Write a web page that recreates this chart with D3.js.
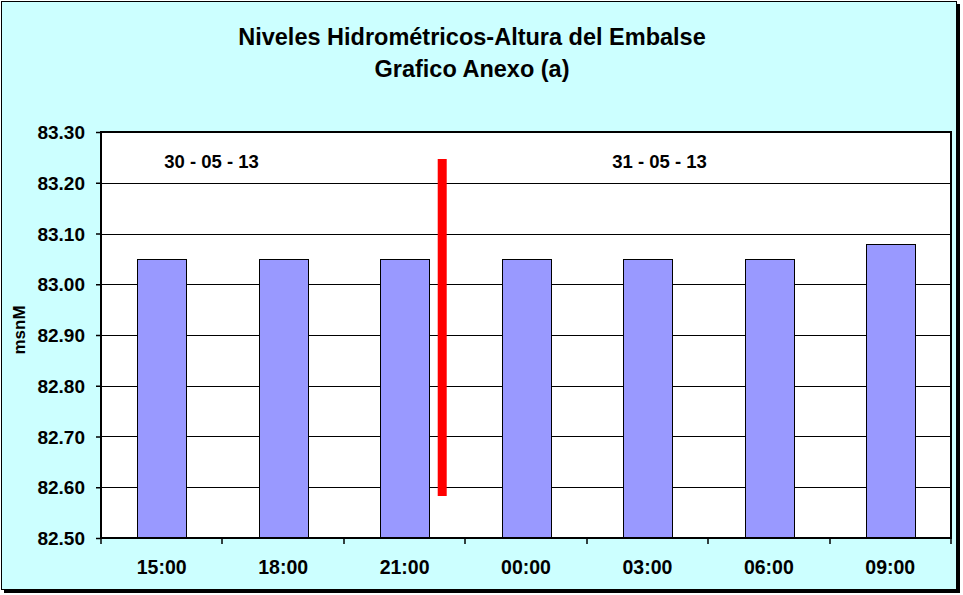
<!DOCTYPE html>
<html>
<head>
<meta charset="utf-8">
<script src="https://cdn.jsdelivr.net/npm/d3@7"></script>
<style>
  html, body { margin: 0; padding: 0; background: #ffffff; }
  svg { display: block; }
  text { font-family: "Liberation Sans", Arial, sans-serif; font-weight: bold; fill: #000; }
</style>
</head>
<body>
<svg id="chart" width="963" height="595"></svg>
<script>
// ---- data ----
const categories = ["15:00", "18:00", "21:00", "00:00", "03:00", "06:00", "09:00"];
const levels = [83.05, 83.05, 83.05, 83.05, 83.05, 83.05, 83.08];
const yTicks = [82.50, 82.60, 82.70, 82.80, 82.90, 83.00, 83.10, 83.20, 83.30];
const titleLines = ["Niveles Hidrométricos-Altura del Embalse", "Grafico Anexo (a)"];
const yLabel = "msnM";
const dateLabels = ["30 - 05 - 13", "31 - 05 - 13"];
const datePositions = [0.91, 4.6];        // in category-index units from left edge
const dayMarkerPos = [2.81];              // separator position (category-index units)
const dayMarkerRange = [82.583, 83.247];  // separator vertical extent (msnM)

// ---- layout ----
const svg = d3.select("#chart");
const plot = { left: 101, top: 132, right: 951, bottom: 538 };

// chart background with shadow
svg.append("rect").attr("x", 4).attr("y", 4).attr("width", 956).attr("height", 589).attr("fill", "#000");
svg.append("rect").attr("x", 1.5).attr("y", 1.5).attr("width", 955).attr("height", 588)
  .attr("fill", "#CCFFFF").attr("stroke", "#000").attr("stroke-width", 1);

const x = d3.scaleBand().domain(categories).range([plot.left, plot.right]).paddingInner(0.6).paddingOuter(0.3);
const xIdx = d3.scaleLinear().domain([0, categories.length]).range([plot.left, plot.right]);
const y = d3.scaleLinear().domain([82.5, 83.3]).range([plot.bottom, plot.top]);

// plot area
svg.append("rect").attr("x", plot.left).attr("y", plot.top)
  .attr("width", plot.right - plot.left).attr("height", plot.bottom - plot.top).attr("fill", "#fff");

// gridlines
svg.append("g").selectAll("line").data(yTicks.slice(1, -1)).join("line")
  .attr("x1", plot.left).attr("x2", plot.right)
  .attr("y1", d => Math.round(y(d)) + 0.5).attr("y2", d => Math.round(y(d)) + 0.5)
  .attr("stroke", "#000").attr("stroke-width", 1);

// bars
svg.append("g").selectAll("rect").data(categories).join("rect")
  .attr("x", d => Math.round(x(d)) + 0.5)
  .attr("y", (d, i) => Math.round(y(levels[i])) + 0.5)
  .attr("width", Math.round(x.bandwidth()))
  .attr("height", (d, i) => y(82.5) - Math.round(y(levels[i])) - 0.5)
  .attr("fill", "#9999FF").attr("stroke", "#000").attr("stroke-width", 1);

// day separator
svg.append("g").selectAll("line").data(dayMarkerPos).join("line")
  .attr("x1", d => xIdx(d)).attr("x2", d => xIdx(d))
  .attr("y1", y(dayMarkerRange[1])).attr("y2", y(dayMarkerRange[0]))
  .attr("stroke", "#FF0000").attr("stroke-width", 9);

// plot border
svg.append("rect").attr("x", plot.left).attr("y", plot.top)
  .attr("width", plot.right - plot.left).attr("height", plot.bottom - plot.top)
  .attr("fill", "none").attr("stroke", "#000").attr("stroke-width", 2);

// y axis
const yAxis = d3.axisLeft(y).tickValues(yTicks).tickFormat(d3.format(".2f")).tickSizeOuter(0).tickSize(5).tickPadding(11);
const gy = svg.append("g").attr("transform", `translate(${plot.left},0)`).call(yAxis);
gy.select(".domain").remove();
gy.selectAll(".tick line").attr("stroke", "#000").attr("stroke-width", 1.5);
gy.selectAll(".tick text").attr("font-size", "19px").attr("font-family", "Liberation Sans, Arial, sans-serif").attr("font-weight", "bold").attr("dy", "0.35em");

// x axis ticks at category boundaries
const boundaries = d3.range(categories.length + 1);
svg.append("g").selectAll("line").data(boundaries).join("line")
  .attr("x1", d => Math.round(xIdx(d))).attr("x2", d => Math.round(xIdx(d)))
  .attr("y1", plot.bottom).attr("y2", plot.bottom + 6)
  .attr("stroke", "#000").attr("stroke-width", 1.5);
svg.append("g").selectAll("text").data(categories).join("text")
  .attr("x", d => x(d) + x.bandwidth() / 2).attr("y", 573.5)
  .attr("text-anchor", "middle").attr("font-size", "19.5px").text(d => d);

// date labels
svg.append("g").selectAll("text").data(dateLabels).join("text")
  .attr("x", (d, i) => xIdx(datePositions[i])).attr("y", 168)
  .attr("text-anchor", "middle").attr("font-size", "18.5px").text(d => d);

// title
svg.append("g").selectAll("text").data(titleLines).join("text")
  .attr("x", 472).attr("y", (d, i) => 45 + i * 31.5)
  .attr("text-anchor", "middle").attr("font-size", "23.5px").text(d => d);

// y label
svg.append("text").attr("transform", "translate(25,330) rotate(-90)")
  .attr("text-anchor", "middle").attr("font-size", "17px").text(yLabel);
</script>
</body>
</html>
